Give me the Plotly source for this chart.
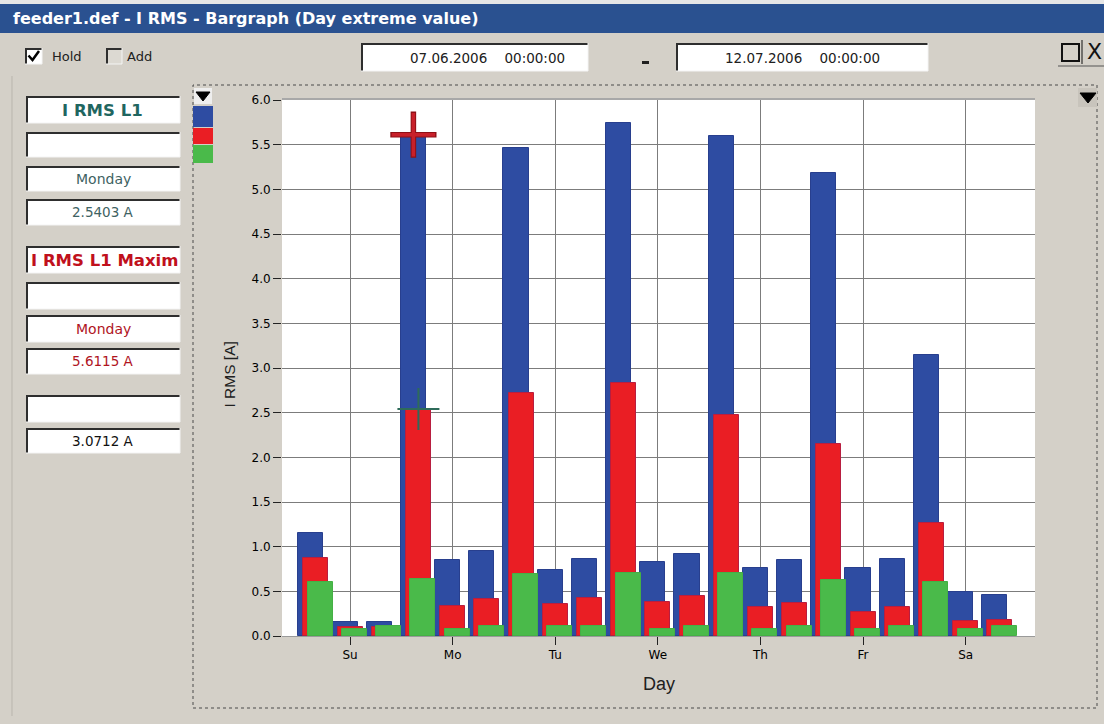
import plotly.graph_objects as go

# ---------------------------------------------------------------- data
days = ["Su", "Mo", "Tu", "We", "Th", "Fr", "Sa"]
# three readings per day, placed at day - 1/3, day, day + 1/3
slot_offsets = [-1 / 3, 0.0, 1 / 3]

irms_max = [1.15, 0.16, 0.16, 5.6115, 0.85, 0.95, 5.46, 0.74, 0.86,
            5.74, 0.83, 0.92, 5.60, 0.76, 0.85, 5.18, 0.76, 0.86,
            3.15, 0.49, 0.46]
irms_l1 = [0.87, 0.10, 0.10, 2.5403, 0.34, 0.41, 2.72, 0.36, 0.42,
           2.83, 0.38, 0.45, 2.47, 0.32, 0.37, 2.15, 0.27, 0.32,
           1.27, 0.17, 0.18]
irms_min = [0.61, 0.08, 0.11, 0.64, 0.08, 0.11, 0.69, 0.11, 0.11,
            0.71, 0.08, 0.11, 0.71, 0.08, 0.11, 0.63, 0.08, 0.11,
            0.60, 0.08, 0.11]

y_ticks = [0.0, 0.5, 1.0, 1.5, 2.0, 2.5, 3.0, 3.5, 4.0, 4.5, 5.0, 5.5, 6.0]

panel_l1_name = "I RMS L1"
panel_l1_day = "Monday"
panel_l1_value = 2.5403
panel_max_name = "I RMS L1 Maxim"
panel_max_day = "Monday"
panel_max_value = 5.6115
panel_other_value = 3.0712

date_from = "07.06.2006"
date_to = "12.07.2006"
time_from = "00:00:00"
time_to = "00:00:00"

# ---------------------------------------------------------------- layout helpers
W, H = 1104, 724
PL, PR, PT, PB = 282, 1035, 100, 636      # plot area, pixels
GRAY = "#D4D0C8"
BLUE, RED, GREEN = "#2E4CA2", "#EA1E24", "#4ABA4A"
SANS = "DejaVu Sans"


def fx(x):
    return (x - PL) / (PR - PL)


def fy(y):
    return (PB - y) / (PB - PT)


shapes = []
annotations = []


def rect(x0, y0, x1, y1, fill, line=None, lw=0, dash=None, layer="below"):
    shapes.append(dict(type="rect", xref="paper", yref="paper",
                       x0=fx(x0), x1=fx(x1), y0=fy(y1), y1=fy(y0),
                       fillcolor=fill, layer=layer,
                       line=dict(color=line or fill, width=lw, dash=dash)))


def seg(x0, y0, x1, y1, color, lw=1, layer="below"):
    shapes.append(dict(type="line", xref="paper", yref="paper",
                       x0=fx(x0), x1=fx(x1), y0=fy(y0), y1=fy(y1),
                       layer=layer, line=dict(color=color, width=lw)))


def text(x, y, s, size=12, color="black", family=SANS,
         anchor="center", bold=False):
    if bold:
        s = "<b>" + s + "</b>"
    annotations.append(dict(xref="paper", yref="paper", x=fx(x), y=fy(y),
                            text=s, showarrow=False, xanchor=anchor,
                            yanchor="middle",
                            font=dict(size=size, color=color, family=family)))


def sunken(x0, y0, x1, y1, fill="white"):
    rect(x0, y0, x1, y1, fill)
    seg(x0, y0 + 1, x1, y0 + 1, "#2E2E2E", 2)
    seg(x0 + 1, y0, x0 + 1, y1, "#2E2E2E", 2)
    seg(x0, y1, x1, y1, "#F4F4F4", 1)
    seg(x1, y0, x1, y1, "#F4F4F4", 1)


# ---------------------------------------------------------------- window chrome
rect(0, 0, W, 4, "#E6E6E6")
rect(0, 4, W, 33, "#2A5190")
text(11, 19, "feeder1.def - I RMS - Bargraph (Day extreme value)", 16,
     "white", SANS, "left", bold=True)

# check boxes
sunken(25, 48, 42, 64)
shapes.append(dict(type="path", xref="paper", yref="paper", layer="below",
                   path="M {},{} L {},{} L {},{}".format(
                       fx(28.5), fy(55.5), fx(32.5), fy(60), fx(39), fy(51)),
                   line=dict(color="black", width=2.5)))
text(50, 56, "Hold", 13, "#202020", SANS, "left")
sunken(106, 48, 122, 64, "#DCD9D2")
text(125, 56, "Add", 13, "#202020", SANS, "left")

# date range
sp = "\u00a0" * 4
sunken(361, 43, 588, 71)
text(487, 58, date_from + sp + time_from, 13.5, "#202020")
rect(642, 61, 649, 64, "#202020")
sunken(676, 43, 928, 71)
text(802, 58, date_to + sp + time_to, 13.5, "#202020")

# window buttons
rect(1062, 44, 1079, 61, "rgba(0,0,0,0)", "#111111", 2)
seg(1082, 40, 1082, 64, "#111111", 1)
text(1094, 52, "X", 22, "#111111", SANS)
seg(1058, 66, 1104, 66, "#555555", 1)

# left read-out panel
seg(12, 76, 12, 716, "#B9B5AD", 1)
boxes = [(96, 123), (132, 157), (166, 191), (199, 225), (246, 273),
         (282, 309), (315, 342), (348, 374), (395, 422), (428, 453)]
for y0, y1 in boxes:
    sunken(26, y0, 180, y1)
TEAL, DRED = "#1F6660", "#B0141E"
text(102, 110, panel_l1_name, 16.5, TEAL, SANS, bold=True)
text(103, 179, panel_l1_day, 14, "#3E6262", SANS)
text(103, 212, "{:.4f} A".format(panel_l1_value), 13.5, "#3E6262", SANS)
text(29, 260, panel_max_name, 16.5, "#C0101C", SANS, "left", bold=True)
text(103, 329, panel_max_day, 14, DRED, SANS)
text(103, 361, "{:.4f} A".format(panel_max_value), 13.5, DRED, SANS)
text(103, 441, "{:.4f} A".format(panel_other_value), 13.5, "#111111", SANS)

# chart frame, series swatches, option arrows
rect(193, 85, 1097, 708, "rgba(0,0,0,0)", "#4A4A4A", 1, "dot")
rect(194, 88, 212, 104, "#EEEEEE")
shapes.append(dict(type="path", xref="paper", yref="paper", layer="above",
                   path="M {},{} L {},{} L {},{} Z".format(
                       fx(196), fy(92), fx(210), fy(92), fx(203), fy(101)),
                   fillcolor="black", line=dict(color="black", width=1)))
rect(193, 106, 213, 127, BLUE)
rect(193, 128, 213, 144, RED)
rect(193, 145, 213, 163, GREEN)
rect(1078, 88, 1097, 107, "#C8C4BC")
shapes.append(dict(type="path", xref="paper", yref="paper", layer="above",
                   path="M {},{} L {},{} L {},{} Z".format(
                       fx(1080), fy(93), fx(1096), fy(93), fx(1088), fy(103)),
                   fillcolor="black", line=dict(color="black", width=1)))
# light frame along the top of the plot area
seg(PL, PT - 1, PR, PT - 1, "#A8A8A8", 2, "above")

# axis titles
text(659, 684, "Day", 18, "#202020", "Liberation Sans")
annotations.append(dict(xref="paper", yref="paper", x=fx(218), y=fy(375),
                        text="I RMS [A]", showarrow=False, textangle=-90,
                        font=dict(size=15.5, color="#202020",
                                  family="Liberation Sans")))

# ---------------------------------------------------------------- bars
slot_x = [d + o for d in range(len(days)) for o in slot_offsets]
BW = 0.244
fig = go.Figure()
for vals, color, edge, shift in [(irms_max, BLUE, "#283F8E", -0.049),
                                 (irms_l1, RED, "#B81E40", 0.0),
                                 (irms_min, GREEN, "#45B045", 0.044)]:
    fig.add_trace(go.Bar(x=slot_x, y=vals, width=BW, offset=shift - BW / 2,
                         marker=dict(color=color,
                                     line=dict(color=edge, width=1)),
                         hoverinfo="skip", showlegend=False))

# cursors on the selected Monday readings
mo = days.index("Mo")
i_sel = mo * 3
fig.add_trace(go.Scatter(x=[slot_x[i_sel] - 0.049], y=[irms_max[i_sel]],
                         mode="markers", showlegend=False, hoverinfo="skip",
                         marker=dict(symbol="cross-thin", size=33,
                                     line=dict(color="#8E1016", width=5.5))))
fig.add_trace(go.Scatter(x=[slot_x[i_sel] - 0.049], y=[irms_max[i_sel]],
                         mode="markers", showlegend=False, hoverinfo="skip",
                         marker=dict(symbol="cross-thin", size=31,
                                     line=dict(color="#C8202A", width=3.5))))
fig.add_trace(go.Scatter(x=[slot_x[i_sel]], y=[irms_l1[i_sel]],
                         mode="markers", showlegend=False, hoverinfo="skip",
                         marker=dict(symbol="cross-thin", size=30,
                                     line=dict(color="#2E6B5A", width=2))))

tick_font = dict(size=12, family=SANS, color="black")
fig.update_layout(
    width=W, height=H, autosize=False,
    margin=dict(l=PL, r=W - PR, t=PT, b=H - PB, pad=0),
    paper_bgcolor=GRAY, plot_bgcolor="white",
    barmode="overlay", bargap=0,
    shapes=shapes, annotations=annotations,
    font=dict(family=SANS, size=12, color="black"),
    xaxis=dict(range=[-0.663, 6.676], tickmode="array",
               tickvals=list(range(len(days))), ticktext=days,
               showgrid=True, gridcolor="#7C7C7C", gridwidth=1,
               ticks="outside", ticklen=8, tickcolor="#222222",
               zeroline=False, showline=True, linecolor="#9A9A9A",
               tickfont=tick_font),
    yaxis=dict(range=[0, 6], tickmode="array", tickvals=y_ticks,
               tickformat=".1f", showgrid=True, gridcolor="#7C7C7C",
               gridwidth=1, ticks="outside", ticklen=8, tickcolor="#222222",
               zeroline=False, showline=False, tickfont=tick_font),
)

fig.write_html("out.html")
